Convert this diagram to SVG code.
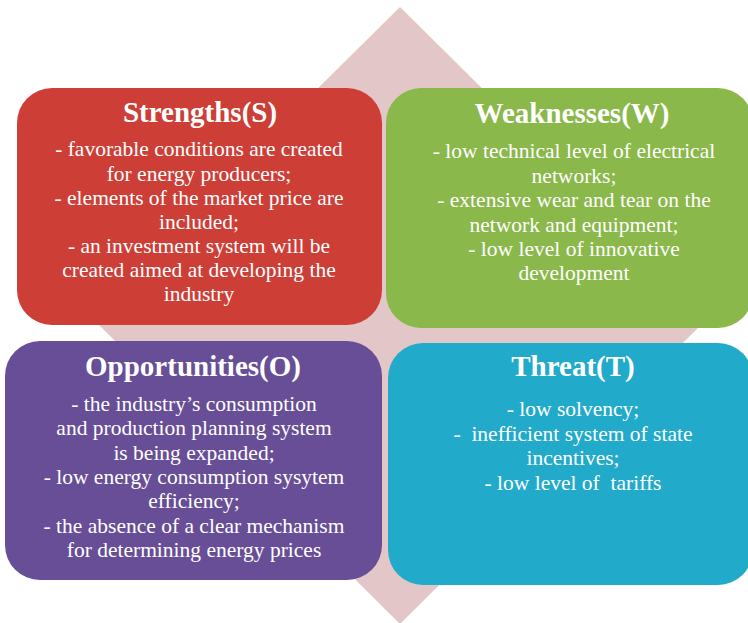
<svg xmlns="http://www.w3.org/2000/svg" width="748" height="623" viewBox="0 0 748 623">
<style>
text{fill:#fff;text-anchor:middle;white-space:pre}
.title{font-weight:bold;font-size:29px}
.body{font-size:21.5px}
</style>
<rect width="748" height="623" fill="#fff"/>
<polygon id="diamond" points="400,7 711,315 400,624 89,315" fill="#E3C7C8"/>
<g font-family="Liberation Serif, DejaVu Serif, serif">
<g id="strengths">
<rect x="17" y="88" width="365" height="237" rx="35" fill="#CD3E37"/>
<text class="title" x="200" y="122">Strengths(S)</text>
<text class="body" x="199" y="156">- favorable conditions are created</text>
<text class="body" x="199" y="180.5">for energy producers;</text>
<text class="body" x="199" y="205">- elements of the market price are</text>
<text class="body" x="199" y="229">included;</text>
<text class="body" x="199" y="253">- an investment system will be</text>
<text class="body" x="199" y="277">created aimed at developing the</text>
<text class="body" x="199" y="301">industry</text>
</g>
<g id="weaknesses">
<rect x="386" y="88" width="367" height="240" rx="35" fill="#8AB84B"/>
<text class="title" x="572" y="123">Weaknesses(W)</text>
<text class="body" x="574" y="158">- low technical level of electrical</text>
<text class="body" x="574" y="183">networks;</text>
<text class="body" x="574" y="207">- extensive wear and tear on the</text>
<text class="body" x="574" y="232">network and equipment;</text>
<text class="body" x="574" y="256">- low level of innovative</text>
<text class="body" x="574" y="280">development</text>
</g>
<g id="opportunities">
<rect x="5" y="341" width="377" height="239" rx="35" fill="#674E96"/>
<text class="title" x="193" y="376">Opportunities(O)</text>
<text class="body" x="194" y="411">- the industry’s consumption</text>
<text class="body" x="194" y="435">and production planning system</text>
<text class="body" x="194" y="460">is being expanded;</text>
<text class="body" x="194" y="484">- low energy consumption sysytem</text>
<text class="body" x="194" y="508">efficiency;</text>
<text class="body" x="194" y="533">- the absence of a clear mechanism</text>
<text class="body" x="194" y="557">for determining energy prices</text>
</g>
<g id="threat">
<rect x="388" y="343" width="365" height="242" rx="35" fill="#22AACB"/>
<text class="title" x="573" y="376">Threat(T)</text>
<text class="body" x="573" y="416">- low solvency;</text>
<text class="body" x="573" y="441">-  inefficient system of state</text>
<text class="body" x="573" y="465">incentives;</text>
<text class="body" x="573" y="490">- low level of  tariffs</text>
</g>
</g>
<g id="connectors"></g>
</svg>
